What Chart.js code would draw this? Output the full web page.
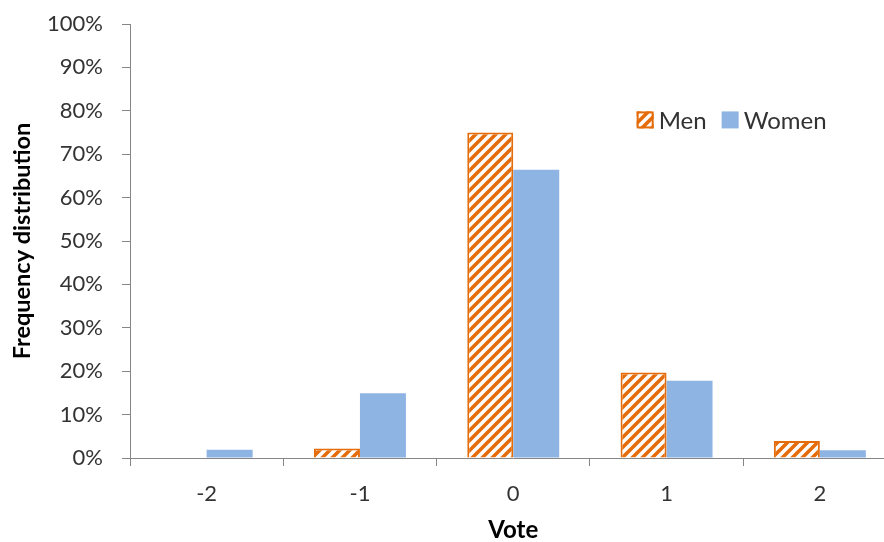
<!DOCTYPE html>
<html>
<head>
<meta charset="utf-8">
<script src="https://cdn.jsdelivr.net/npm/chart.js@4"></script>
<style>
  html, body { margin: 0; padding: 0; background: #fff; overflow: hidden; }
  #wrap { position: relative; width: 898px; height: 542px; }
</style>
</head>
<body>
<div id="wrap"><canvas id="chart"></canvas></div>
<script>
// Vote categories and frequency distribution (%) by gender
const votes = ['-2', '-1', '0', '1', '2'];
const menShare = [0, 2.2, 75.0, 19.7, 3.9];
const womenShare = [1.9, 14.9, 66.4, 17.8, 1.8];
const seriesNames = ['Men', 'Women'];

const ORANGE = '#E46C0A';
const BLUE = '#8EB4E3';
const AXIS = '#868686';
const TEXT = '#333333';
const FONT = 'Lato, "Liberation Sans", sans-serif';

// Diagonal "/" hatch used for the Men series
function makeHatch() {
  const s = 10;
  const c = document.createElement('canvas');
  c.width = s; c.height = s;
  const g = c.getContext('2d');
  g.fillStyle = '#ffffff';
  g.fillRect(0, 0, s, s);
  g.strokeStyle = ORANGE;
  g.lineWidth = 3.6;
  g.lineCap = 'square';
  for (let k = -1; k <= 1; k++) {
    g.beginPath();
    g.moveTo(k * s - 1, s + 1);
    g.lineTo(k * s + s + 1, -1);
    g.stroke();
  }
  return g.createPattern(c, 'repeat');
}
const hatch = makeHatch();

// Legend drawn inside the plot area, upper right
const insideLegend = {
  id: 'insideLegend',
  afterDraw(chart) {
    const { ctx, chartArea } = chart;
    const w = chartArea.right - chartArea.left;
    const h = chartArea.bottom - chartArea.top;
    let x = chartArea.left + w * 0.661;
    const yMid = chartArea.top + h * 0.221;
    const box = 17;
    ctx.save();
    ctx.font = '24px ' + FONT;
    ctx.textBaseline = 'middle';
    chart.data.datasets.forEach((ds) => {
      ctx.fillStyle = ds.backgroundColor;
      ctx.fillRect(x, yMid - box / 2, box, box);
      if (ds.borderColor && ds.label === seriesNames[0]) {
        ctx.strokeStyle = ds.borderColor;
        ctx.lineWidth = 2;
        ctx.strokeRect(x + 1, yMid - box / 2 + 1, box - 2, box - 2);
      }
      ctx.fillStyle = TEXT;
      ctx.fillText(ds.label, x + box + 5, yMid + 1);
      x += box + 5 + ctx.measureText(ds.label).width + 15;
    });
    ctx.restore();
  }
};

new Chart(document.getElementById('chart'), {
  type: 'bar',
  data: {
    labels: votes,
    datasets: [
      {
        label: seriesNames[0],
        data: menShare,
        backgroundColor: hatch,
        borderColor: ORANGE,
        borderWidth: (c) => (c.raw > 0 ? 2 : 0),
        categoryPercentage: 0.6,
        barPercentage: 1.0
      },
      {
        label: seriesNames[1],
        data: womenShare,
        backgroundColor: BLUE,
        borderWidth: 0,
        categoryPercentage: 0.6,
        barPercentage: 1.0
      }
    ]
  },
  options: {
    responsive: true,
    maintainAspectRatio: false,
    animation: false,
    layout: { padding: { top: 24, right: 1.5, left: 0, bottom: 0 } },
    plugins: {
      legend: { display: false },
      tooltip: { enabled: false }
    },
    scales: {
      x: {
        grid: {
          display: true,
          offset: true,
          drawOnChartArea: false,
          drawTicks: true,
          tickLength: 8,
          color: AXIS
        },
        border: { display: true, color: AXIS, width: 1 },
        ticks: { color: TEXT, font: { family: FONT, size: 22 }, padding: 15 },
        title: {
          display: true,
          text: 'Vote',
          color: '#000',
          font: { family: FONT, size: 24, weight: 'bold', lineHeight: 1.0 },
          padding: { top: 0, bottom: 0 }
        },
        afterFit(scale) { scale.height = 84; }
      },
      y: {
        min: 0,
        max: 100,
        grid: {
          display: true,
          drawOnChartArea: false,
          drawTicks: true,
          tickLength: 8,
          color: AXIS
        },
        border: { display: true, color: AXIS, width: 1 },
        ticks: {
          stepSize: 10,
          color: TEXT,
          font: { family: FONT, size: 22 },
          padding: 19,
          callback: (v) => v + '%'
        },
        title: {
          display: true,
          text: 'Frequency distribution',
          color: '#000',
          font: { family: FONT, size: 23.5, weight: 'bold', lineHeight: 1.0 },
          padding: { top: 11, bottom: 0 }
        },
        afterFit(scale) {
          scale.width = 130;
          scale.paddingTop = 0;
          scale.paddingBottom = 0;
        }
      }
    }
  },
  plugins: [insideLegend]
});
</script>
</body>
</html>
